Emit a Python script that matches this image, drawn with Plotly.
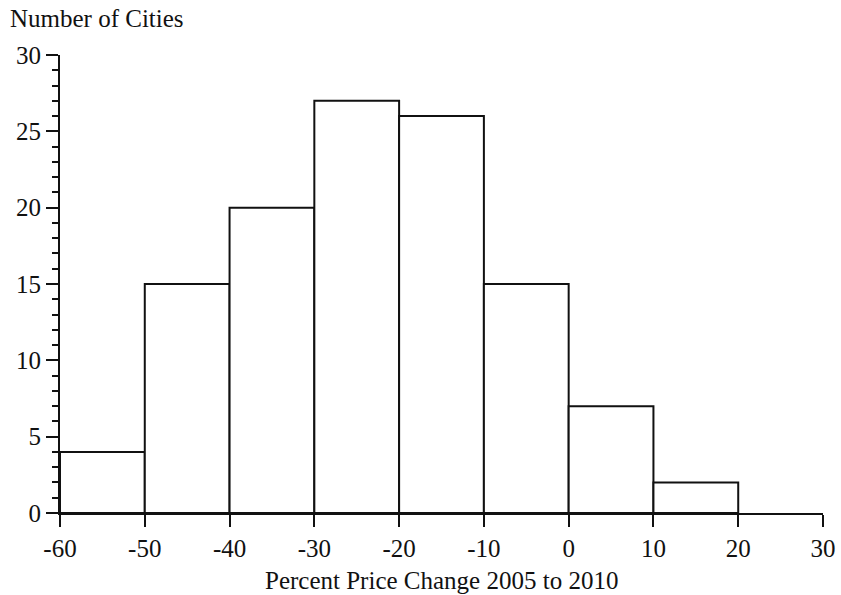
import plotly.graph_objects as go

bin_starts = [-60, -50, -40, -30, -20, -10, 0, 10]
bin_width = 10
counts = [4, 15, 20, 27, 26, 15, 7, 2]
x_ticks = [-60, -50, -40, -30, -20, -10, 0, 10, 20, 30]
y_ticks = [0, 5, 10, 15, 20, 25, 30]

centers = [s + bin_width / 2 for s in bin_starts]
font = "Liberation Serif"
fs = 25

fig = go.Figure()
fig.add_trace(go.Bar(
    x=centers, y=counts, width=[bin_width] * len(counts),
    marker=dict(color="white", line=dict(color="#111", width=2)),
    showlegend=False, hoverinfo="skip",
))

fig.update_layout(
    width=841, height=595,
    margin=dict(l=60, r=18, t=55, b=82),
    paper_bgcolor="white", plot_bgcolor="white",
    font=dict(family=font, size=fs, color="#111"),
    xaxis=dict(
        range=[-60, 30], tickvals=x_ticks, ticktext=[str(v) for v in x_ticks],
        showgrid=False, zeroline=False, showline=True, linecolor="#111", linewidth=2,
        ticks="outside", ticklen=12, tickwidth=2, tickcolor="#111", automargin=False,
    ),
    yaxis=dict(
        range=[0, 30], tickvals=y_ticks, ticktext=[str(v) for v in y_ticks],
        showgrid=False, zeroline=False, showline=True, linecolor="#111", linewidth=2,
        ticks="outside", ticklen=12, tickwidth=2, tickcolor="#111", automargin=False,
        minor=dict(dtick=1, ticks="outside", ticklen=6, tickwidth=1.5, tickcolor="#111", showgrid=False),
    ),
    annotations=[
        dict(text="Number of Cities", xref="paper", yref="paper", x=0, y=1,
             xanchor="left", yanchor="middle", xshift=-52, yshift=37,
             showarrow=False, font=dict(family=font, size=fs, color="#111")),
        dict(text="Percent Price Change 2005 to 2010", xref="paper", yref="paper", x=0.5, y=0,
             xanchor="center", yanchor="middle", yshift=-67,
             showarrow=False, font=dict(family=font, size=fs, color="#111")),
    ],
)

fig.write_html("out.html", config={"displayModeBar": False},
               post_script="document.body.style.margin='0';")
